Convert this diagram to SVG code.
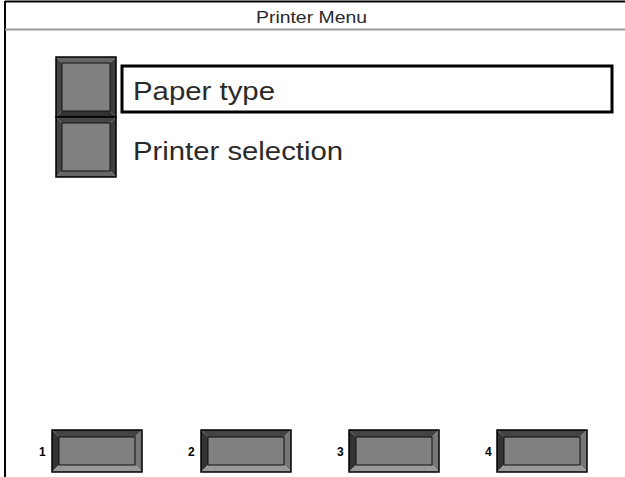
<svg xmlns="http://www.w3.org/2000/svg" width="625" height="477" viewBox="0 0 625 477">
<defs>
<style>
.t{font-family:"Liberation Sans",Arial,sans-serif;fill:#2a2a2a}
.face{fill:#808080;stroke:#111;stroke-width:1}
.out{fill:none;stroke:#000;stroke-width:1.5}
.num{font-family:"Liberation Sans",Arial,sans-serif;font-weight:bold;font-size:12px;fill:#000}
</style>
</defs>
<rect width="625" height="477" fill="#fff"/>
<g id="frame">
<line x1="5" y1="1.5" x2="625" y2="1.5" stroke="#000" stroke-width="2"/>
<line x1="5" y1="1" x2="5" y2="477" stroke="#000" stroke-width="2"/>
<line x1="5" y1="29.5" x2="625" y2="29.5" stroke="#999" stroke-width="2"/>
<text class="t" x="256" y="23" font-size="17" textLength="111" lengthAdjust="spacingAndGlyphs">Printer Menu</text>
</g>
<g id="side-btn-1">
<polygon points="56,57 116,57 110,63 62,63" fill="#666"/>
<polygon points="56,57 62,63 62,111 56,117" fill="#444"/>
<polygon points="116,57 116,117 110,111 110,63" fill="#3e3e3e"/>
<polygon points="56,117 62,111 110,111 116,117" fill="#333"/>
<rect class="face" x="62" y="63" width="48" height="48"/>
<rect class="out" x="56" y="57" width="60" height="60"/>
</g>
<g id="side-btn-2">
<polygon points="56,117 116,117 110,123 62,123" fill="#444"/>
<polygon points="56,117 62,123 62,171 56,177" fill="#444"/>
<polygon points="116,117 116,177 110,171 110,123" fill="#3e3e3e"/>
<polygon points="56,177 62,171 110,171 116,177" fill="#666"/>
<rect class="face" x="62" y="123" width="48" height="48"/>
<rect class="out" x="56" y="117" width="60" height="60"/>
</g>
<g id="paper-type">
<rect x="122" y="66" width="490" height="46" fill="#fff" stroke="#000" stroke-width="3"/>
<text class="t" x="133" y="100" font-size="25" textLength="142" lengthAdjust="spacingAndGlyphs">Paper type</text>
</g>
<g id="printer-selection">
<text class="t" x="133" y="160" font-size="25" textLength="210" lengthAdjust="spacingAndGlyphs">Printer selection</text>
</g>
<g id="btn-1">
<text class="num" x="39" y="456">1</text>
<polygon points="52,430 142,430 135,437 59,437" fill="#444"/>
<polygon points="52,430 59,437 59,465 52,472" fill="#333"/>
<polygon points="142,430 142,472 135,465 135,437" fill="#777"/>
<polygon points="52,472 59,465 135,465 142,472" fill="#999"/>
<rect class="face" x="59" y="437" width="76" height="28"/>
<rect class="out" x="52" y="430" width="90" height="42"/>
</g>
<g id="btn-2">
<text class="num" x="188" y="456">2</text>
<polygon points="201,430 291,430 284,437 208,437" fill="#444"/>
<polygon points="201,430 208,437 208,465 201,472" fill="#333"/>
<polygon points="291,430 291,472 284,465 284,437" fill="#777"/>
<polygon points="201,472 208,465 284,465 291,472" fill="#999"/>
<rect class="face" x="208" y="437" width="76" height="28"/>
<rect class="out" x="201" y="430" width="90" height="42"/>
</g>
<g id="btn-3">
<text class="num" x="337" y="456">3</text>
<polygon points="349,430 439,430 432,437 356,437" fill="#444"/>
<polygon points="349,430 356,437 356,465 349,472" fill="#333"/>
<polygon points="439,430 439,472 432,465 432,437" fill="#777"/>
<polygon points="349,472 356,465 432,465 439,472" fill="#999"/>
<rect class="face" x="356" y="437" width="76" height="28"/>
<rect class="out" x="349" y="430" width="90" height="42"/>
</g>
<g id="btn-4">
<text class="num" x="485" y="456">4</text>
<polygon points="497,430 587,430 580,437 504,437" fill="#444"/>
<polygon points="497,430 504,437 504,465 497,472" fill="#333"/>
<polygon points="587,430 587,472 580,465 580,437" fill="#777"/>
<polygon points="497,472 504,465 580,465 587,472" fill="#999"/>
<rect class="face" x="504" y="437" width="76" height="28"/>
<rect class="out" x="497" y="430" width="90" height="42"/>
</g>
<g id="connectors"></g>
</svg>
